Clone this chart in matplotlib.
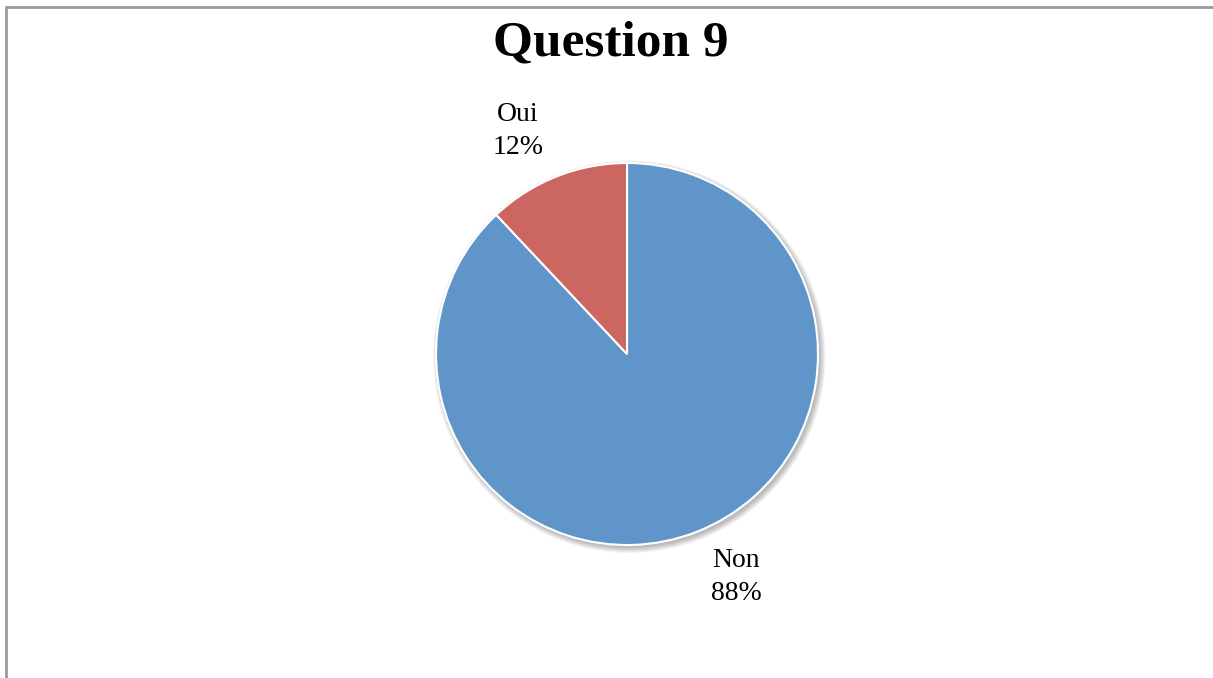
import numpy as np
import matplotlib.pyplot as plt
from matplotlib.patches import Rectangle, Circle

# answers to question 9
labels = ['Non', 'Oui']
percents = [88, 12]
colors = ['#5F95C9', '#CB6660']

W, H = 1213, 678
fig = plt.figure(figsize=(W / 100, H / 100), dpi=100)
fig.patch.set_facecolor('white')

# chart frame (left and top edges show, the rest runs off the page)
fig.patches.append(Rectangle((6 / W, -0.1), 1.1, (H - 7) / H + 0.1,
                             transform=fig.transFigure, fill=False,
                             edgecolor='#9a9a9a', linewidth=2))

fig.text(611 / W, 1 - 44 / H, 'Question 9', ha='center', va='center',
         fontsize=37, fontweight='bold', family='Liberation Serif')

cx, cy, r = 627, 354, 191
ax = fig.add_axes([(cx - r) / W, (H - cy - r) / H, 2 * r / W, 2 * r / H])
ax.set_xlim(-1, 1)
ax.set_ylim(-1, 1)
ax.set_aspect('equal')
ax.axis('off')

# soft drop shadow under the pie
for i in range(8):
    ax.add_patch(Circle((0.012, -0.014), 1.0 + 0.004 * i, color='black',
                        alpha=0.035, lw=0, zorder=0, clip_on=False))

wedges, _ = ax.pie(percents, colors=colors, startangle=90, counterclock=False,
                   radius=1.0, wedgeprops=dict(edgecolor='white', linewidth=1.5))
for w in wedges:
    w.set_clip_on(False)
    w.set_zorder(2)

# labels sit outside the slices, nudged a little counter-clockwise
for w, lab, p in zip(wedges, labels, percents):
    ang = np.deg2rad((w.theta1 + w.theta2) / 2 + 4.5)
    ax.text(1.30 * np.cos(ang), 1.30 * np.sin(ang), f'{lab}\n{p}%',
            ha='center', va='center', fontsize=20, family='Liberation Serif',
            linespacing=1.38)

ax.set_xlim(-1, 1)
ax.set_ylim(-1, 1)

fig.savefig('out.png', dpi=100)
